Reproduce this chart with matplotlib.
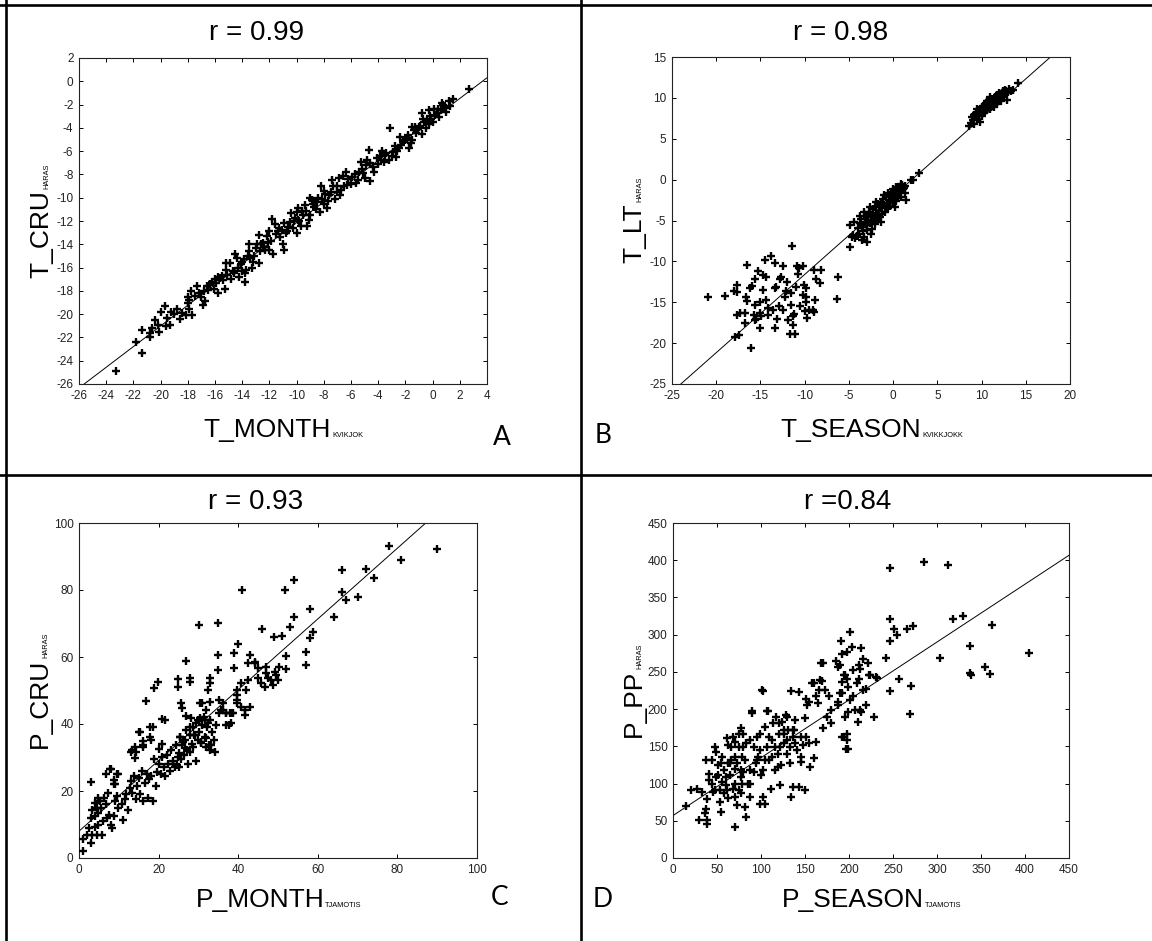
import matplotlib
matplotlib.use('Agg')
import matplotlib.pyplot as plt

W, H, DPI = 1152, 941, 100
plt.rcParams['font.family'] = ['Liberation Sans', 'DejaVu Sans']
plt.rcParams['axes.unicode_minus'] = False

# ---------------- data ----------------
panel_a_points = [
    (-23.3,-24.9),(-21.4,-23.3),(-21.8,-22.4),(-21.4,-21.4),(-20.8,-21.6),(-20.8,-22.0),(-20.6,-21.2),
    (-20.4,-20.5),(-20.1,-21.5),(-20.0,-19.8),(-19.7,-19.3),(-19.6,-21.0),(-19.5,-20.3),(-19.2,-19.8),
    (-18.6,-20.4),(-18.4,-19.9),(-18.1,-20.1),(-18.0,-19.0),(-17.9,-18.8),(-18.0,-18.5),(-17.7,-20.1),
    (-17.8,-18.0),(-17.3,-17.6),(-17.0,-18.5),(-16.9,-19.2),(-16.7,-18.9),(-16.5,-17.9),(-16.2,-17.2),
    (-16.0,-17.0),(-15.8,-18.2),(-15.8,-16.8),(-15.5,-16.7),(-15.3,-17.8),(-15.2,-16.2),(-14.8,-17.0),
    (-14.6,-16.5),(-14.5,-14.8),(-14.3,-16.0),(-14.0,-15.5),(-14.0,-16.3),(-13.8,-16.5),(-13.8,-17.2),
    (-13.6,-15.0),(-13.5,-14.6),(-13.3,-16.0),(-13.2,-15.5),(-13.0,-14.3),(-12.8,-15.6),(-12.8,-13.2),
    (-12.5,-13.9),(-12.3,-14.5),(-12.2,-13.3),(-12.0,-14.5),(-11.7,-14.8),(-11.8,-11.8),(-11.6,-12.3),
    (-11.2,-13.4),(-11.0,-14.0),(-10.9,-14.5),(-10.8,-13.0),(-10.6,-12.5),(-10.4,-11.3),(-10.2,-12.0),
    (-10.0,-13.0),(-9.8,-12.0),(-9.6,-11.1),(-9.4,-10.6),(-9.2,-12.4),(-9.0,-11.5),(-8.8,-10.5),
    (-8.6,-11.0),(-8.4,-10.0),(-8.2,-9.0),(-8.0,-10.5),(-7.8,-10.9),(-7.6,-9.8),(-7.3,-9.0),(-7.0,-9.5),
    (-6.8,-9.8),(-6.6,-8.1),(-6.3,-8.9),(-6.0,-8.8),(-5.7,-8.0),(-5.5,-8.5),(-5.2,-7.5),(-5.0,-8.3),
    (-4.8,-6.8),(-4.7,-5.9),(-4.6,-8.6),(-4.4,-7.4),(-4.0,-7.1),(-3.8,-6.8),(-3.5,-6.3),(-3.2,-6.8),
    (-3.1,-4.0),(-2.9,-6.1),(-2.7,-6.5),(-2.5,-5.7),(-2.2,-5.2),(-1.9,-4.9),(-1.7,-5.7),(-1.5,-5.0),
    (-1.2,-4.4),(-1.0,-3.9),(-0.8,-4.5),(-0.8,-2.7),(-0.6,-3.5),(-0.3,-3.7),(-0.1,-3.2),(0.1,-2.4),
    (0.3,-2.7),(0.5,-3.1),(0.7,-1.9),(0.9,-2.3),(1.3,-2.1),(1.5,-1.5),(2.7,-0.7),
    (-19.0,-20.0),(-18.8,-19.6),(-17.5,-18.4),(-17.2,-18.2),(-16.8,-18.0),(-16.4,-17.4),(-16.1,-17.8),
    (-15.9,-17.3),(-15.6,-16.9),(-15.4,-17.1),(-15.1,-16.6),(-14.9,-15.6),(-14.7,-16.3),(-14.4,-15.2),
    (-14.1,-15.7),(-13.9,-15.3),(-13.7,-16.2),(-13.4,-15.2),(-13.1,-15.0),(-12.9,-14.0),(-12.7,-14.6),
    (-12.4,-14.2),(-12.1,-13.8),(-11.9,-13.7),(-11.5,-13.1),(-11.3,-12.6),(-11.1,-12.8),(-10.9,-12.2),
    (-10.7,-12.9),(-10.5,-12.1),(-10.3,-12.6),(-10.1,-11.7),(-9.9,-11.9),(-9.7,-12.4),(-9.5,-11.5),
    (-9.3,-11.1),(-9.1,-11.9),(-8.9,-10.2),(-8.7,-10.8),(-8.5,-10.4),(-8.3,-11.2),(-8.1,-10.1),
    (-7.9,-9.7),(-7.7,-10.3),(-7.5,-9.5),(-7.2,-10.1),(-7.0,-9.0),(-6.7,-9.3),(-6.5,-9.0),(-6.2,-8.4),
    (-5.9,-8.2),(-5.6,-8.7),(-5.4,-7.8),(-5.1,-7.9),(-4.9,-7.2),(-4.6,-7.0),(-4.3,-7.8),(-4.1,-6.6),
    (-3.9,-6.4),(-3.6,-6.9),(-3.4,-6.2),(-3.0,-6.4),(-2.8,-5.6),(-2.6,-6.0),(-2.3,-5.5),(-2.0,-5.0),
    (-1.8,-4.6),(-1.6,-5.3),(-1.4,-4.2),(-1.3,-3.9),(-1.1,-4.1),(-0.9,-3.8),(-0.7,-3.2),(-0.5,-4.0),
    (-0.4,-3.3),(-0.2,-3.0),(0.0,-3.5),(0.2,-2.9),(0.4,-2.4),(0.6,-2.5),(0.8,-2.0),(1.0,-2.6),(1.2,-1.7),
    (-6.4,-7.8),(-9.9,-10.9),(-11.4,-12.9),(-12.6,-14.0),(-13.5,-14.0),(-14.2,-16.8),(-16.6,-17.6),
    (-20.2,-20.9),(-19.3,-20.9),(-17.9,-19.6),(-15.2,-15.6),(-12.0,-12.9),(-10.0,-11.2),(-9.0,-10.0),
    (-8.0,-9.4),(-7.4,-8.5),(-6.9,-8.3),(-5.3,-6.9),(-3.7,-6.0),(-2.4,-4.8),(-1.5,-3.9),(-0.3,-2.5),
]

panel_b_points = [
    (-20.9,-14.4),(-19.0,-14.2),(-18.0,-13.6),(-17.6,-12.9),(-17.7,-13.8),(-17.9,-19.2),(-17.4,-19.0),
    (-17.6,-16.6),(-17.3,-16.3),(-16.8,-17.5),(-16.7,-16.3),(-16.5,-10.5),(-16.6,-14.4),(-16.5,-14.9),
    (-16.2,-13.2),(-15.9,-13.0),(-16.1,-20.6),(-15.7,-16.6),(-15.6,-17.2),(-15.6,-15.3),(-15.1,-18.2),
    (-15.1,-16.3),(-15.0,-15.0),(-14.9,-16.7),(-15.6,-12.2),(-15.3,-11.2),(-14.7,-11.7),(-14.5,-9.8),
    (-14.4,-11.9),(-14.7,-13.5),(-14.4,-14.7),(-14.2,-15.7),(-13.8,-9.4),(-13.4,-10.2),(-13.6,-15.9),
    (-13.3,-13.3),(-13.2,-13.1),(-13.1,-17.1),(-13.3,-18.2),(-12.9,-15.5),(-12.5,-15.9),(-12.4,-10.6),
    (-12.8,-12.1),(-12.7,-11.9),(-12.2,-14.4),(-12.0,-12.5),(-11.9,-17.2),(-11.7,-18.9),(-11.5,-15.3),
    (-11.5,-13.9),(-11.4,-8.1),(-11.3,-16.7),(-11.3,-17.8),(-11.2,-16.4),(-11.1,-18.9),(-11.0,-13.1),
    (-10.9,-10.6),(-10.7,-11.6),(-10.6,-10.8),(-10.5,-15.5),(-10.2,-14.1),(-10.1,-12.9),(-9.9,-15.0),
    (-10.0,-16.1),(-9.8,-14.4),(-9.7,-16.9),(-9.5,-16.0),(-9.1,-15.9),(-8.9,-16.2),(-8.8,-14.7),
    (-8.7,-12.1),(-8.3,-12.6),(-8.1,-11.0),(-9.0,-11.0),(-9.8,-13.3),(-6.3,-14.6),(-6.2,-11.9),
    (-10.2,-10.6),(-12.1,-13.6),(-14.2,-16.6),(-15.5,-17.0),
    (-4.9,-5.5),(-4.9,-8.3),(-4.7,-7.0),(-4.5,-6.8),(-4.3,-7.2),(-4.1,-6.9),(-3.9,-6.6),(-3.8,-4.5),
    (-3.6,-4.8),(-3.5,-5.8),(-3.4,-6.3),(-3.3,-7.0),(-3.2,-5.2),(-3.1,-4.4),(-3.0,-5.6),(-2.9,-6.2),
    (-2.8,-4.9),(-2.7,-3.9),(-2.6,-5.3),(-2.5,-4.3),(-2.4,-6.0),(-2.3,-3.6),(-2.2,-4.7),(-2.1,-5.4),
    (-2.0,-3.3),(-1.9,-4.1),(-1.8,-5.0),(-1.7,-3.0),(-1.6,-3.8),(-1.5,-4.6),(-1.4,-2.7),(-1.3,-3.4),
    (-1.2,-4.2),(-1.1,-2.4),(-1.0,-3.1),(-0.9,-3.9),(-0.8,-2.1),(-0.7,-2.8),(-0.6,-3.5),(-0.5,-1.9),
    (-0.4,-2.5),(-0.3,-3.2),(-0.2,-1.6),(-0.1,-2.3),(0.0,-2.9),(0.1,-1.4),(0.2,-2.0),(0.3,-2.6),
    (0.4,-1.2),(0.5,-1.7),(0.6,-2.3),(0.7,-0.9),(0.8,-1.5),(0.9,-2.1),(1.0,-0.7),(1.1,-1.2),(1.2,-1.0),
    (1.4,-0.8),(1.5,-2.5),(2.0,-0.1),(2.3,-0.1),(2.9,0.8),(-3.7,-5.3),(-3.3,-4.0),(-2.9,-4.6),
    (-2.6,-3.4),(-2.3,-5.0),(-2.0,-4.4),(-1.7,-4.5),(-1.5,-3.3),(-1.2,-3.0),(-1.0,-1.9),(-0.8,-3.3),
    (-0.6,-1.6),(-0.3,-2.0),(0.0,-1.2),(0.3,-0.9),(0.6,-1.3),(0.9,-0.5),(1.3,-1.6),(-4.4,-5.2),
    (-3.0,-7.6),(-2.5,-6.6),(-1.9,-2.7),(-1.4,-5.2),(-0.5,-2.9),(0.2,-3.4),(-4.0,-5.9),(-3.5,-7.4),
    (8.6,6.5),(8.8,6.9),(9.0,7.3),(9.1,6.8),(9.3,7.6),(9.4,8.2),(9.6,7.4),(9.7,8.0),(9.8,7.1),(9.9,8.6),
    (10.0,7.8),(10.1,8.4),(10.2,9.0),(10.3,8.1),(10.4,8.8),(10.5,9.4),(10.6,8.5),(10.7,9.1),(10.8,9.7),
    (10.9,8.7),(11.0,9.3),(11.1,8.9),(11.2,9.9),(11.3,9.5),(11.4,8.9),(11.5,10.1),(11.6,9.6),(11.7,9.2),
    (11.8,10.3),(11.9,9.8),(12.0,10.6),(12.1,10.0),(12.2,9.6),(12.3,10.4),(12.4,10.8),(12.5,10.2),
    (12.6,11.0),(12.7,10.5),(12.8,10.9),(12.9,9.7),(13.0,10.7),(13.1,11.1),(13.3,10.8),(13.5,11.0),
    (14.1,11.8),(9.2,7.9),(9.5,8.6),(10.0,8.9),(10.6,9.6),(11.0,10.1),(11.5,9.2),(12.0,9.9),(8.9,7.6),
]

panel_c_points = [
    (77.9,93.2),(81.0,89.0),(90.0,92.2),(66.0,86.0),(72.0,86.2),(74.0,83.5),(66.0,79.3),(67.0,77.1),
    (70.0,77.9),(64.0,71.8),(54.0,83.0),(51.8,79.9),(41.0,80.0),(30.1,69.6),(35.0,70.1),(58.0,74.3),
    (54.0,71.9),(52.9,69.1),(51.1,66.4),(49.0,66.1),(58.8,67.6),(58.0,65.6),(57.0,61.6),(57.0,57.6),
    (51.9,60.3),(51.9,56.3),(46.0,68.3),(40.0,63.9),(38.9,61.3),(42.9,60.6),(38.9,56.8),(35.0,60.6),
    (35.0,56.1),(27.0,58.8),(27.9,53.6),(27.9,52.6),(24.9,53.3),(24.9,50.9),(19.9,52.6),(18.9,50.6),
    (16.9,47.0),(20.8,41.4),(17.8,39.2),(17.8,36.2),(15.0,37.7),(16.1,35.0),(16.1,33.7),(14.0,33.2),
    (13.0,31.7),(14.0,30.0),(3.1,22.7),(6.9,25.2),(7.9,26.7),(9.9,25.0),(8.9,23.2),(8.9,22.2),
    (1.0,5.8),(1.0,2.1),(3.1,4.5),
    (2.1,6.9),(3.3,6.9),(4.5,6.9),(5.8,6.9),(2.5,8.9),(3.9,9.4),(4.8,9.9),(6.0,10.9),(2.9,11.9),
    (4.1,12.4),(4.8,13.4),(3.3,14.4),(4.5,14.9),(5.6,14.9),(4.1,16.5),(5.2,17.0),(6.4,18.0),(4.8,18.0),
    (7.2,19.5),(6.8,16.0),(7.6,12.9),(8.0,9.9),(7.0,11.9),(8.8,12.4),(8.4,8.9),(9.1,17.0),(9.5,18.5),
    (9.9,14.9),(10.7,16.0),(11.1,11.4),(11.5,17.5),(11.9,19.0),(12.3,14.4),(12.7,21.0),(13.0,23.0),
    (13.4,19.5),(13.8,24.5),(14.2,17.5),(14.6,21.5),(15.0,24.0),(15.4,19.0),(15.8,26.1),(16.2,17.0),
    (16.6,22.5),(17.0,25.1),(17.3,18.0),(17.7,23.5),(18.1,24.5),(18.5,17.0),(18.9,29.6),(19.3,21.5),
    (19.7,25.6),(20.1,28.1),(20.5,25.1),(20.9,30.1),(21.3,27.1),(21.6,24.5),(22.0,30.6),(22.4,28.1),
    (22.8,26.1),(23.2,32.1),(23.6,29.1),(24.0,27.1),(24.4,33.6),(24.8,30.1),(25.2,27.1),(25.5,36.2),
    (25.9,33.6),(26.3,30.6),(26.7,35.2),(27.1,32.1),(27.5,28.1),(27.9,36.7),(28.3,34.1),(28.7,39.2),
    (29.1,36.7),(29.5,29.1),(29.8,41.2),(30.2,37.7),(30.6,34.6),(31.0,39.7),(31.4,42.2),(31.8,35.7),
    (32.2,39.2),(32.6,33.6),(33.0,41.2),(33.4,37.7),(33.8,35.2),(34.1,31.6),(34.5,39.7),(35.3,43.2),
    (36.1,44.2),(36.9,43.2),(37.7,39.7),(38.4,43.2),(8.0,26.6),(9.5,25.1),(9.1,22.0),(15.4,37.7),
    (18.1,35.2),(18.5,39.2),(16.2,33.1),(14.2,31.6),(13.4,32.1),(21.6,41.2),(20.1,32.6),(20.9,34.1),
    (25.7,46.2),(26.0,44.7),(27.0,42.4),(28.2,41.7),(29.5,40.2),(30.3,41.7),(31.6,41.2),(32.4,40.2),
    (30.3,46.2),(30.9,46.2),(31.9,44.2),(32.8,46.7),(32.9,53.6),(33.0,52.1),(32.4,50.1),(35.3,47.2),
    (36.2,46.2),(35.8,44.2),(37.0,43.2),(37.9,43.2),(38.3,40.2),(37.0,39.7),(38.7,43.2),(39.7,50.1),
    (39.7,48.7),(39.7,47.2),(39.7,46.2),(40.8,52.2),(40.8,45.2),(41.8,44.2),(41.8,42.7),(42.9,45.2),
    (42.0,50.1),(42.4,53.1),(44.1,58.1),(44.9,56.6),(44.9,53.6),(45.8,52.1),(47.1,57.1),(47.1,55.1),
    (47.5,53.6),(46.8,51.1),(48.3,53.1),(49.2,55.6),(49.6,54.6),(50.0,53.1),(48.8,51.6),(50.2,57.1),
    (42.5,58.1),(44.1,58.6),(26.7,32.7),(27.8,31.7),(28.6,33.2),(29.0,36.7),(29.8,35.2),(30.7,34.2),
    (31.6,36.2),(32.8,32.2),(32.0,33.2),(33.1,33.7),(27.0,38.2),(27.8,39.2),(26.1,34.7),(25.3,36.2),
    (25.0,31.2),(25.7,29.7),(24.5,27.7),(23.7,28.2),
]

panel_d_points = [
    (285,398),(313,393),(247,389),(318,321),(330,325),(247,321),(251,308),(254,299),(266,308),
    (273,312),(247,291),(363,313),(337,285),(303,268),(337,248),(339,246),(355,257),(360,247),
    (405,275),(257,240),(271,231),(269,194),(247,224),(242,269),(232,242),(224,246),(228,190),
    (219,206),(219,227),(222,262),(216,267),(214,282),(211,259),(205,253),(203,284),(201,304),
    (198,277),(192,274),(191,292),(190,259),(194,246),(198,241),(199,230),(201,212),(199,196),
    (198,167),(198,158),(199,147),(192,163),(196,190),(192,222),(187,210),(188,256),(214,196),
    (210,183),(212,199),(212,254),(209,235),(170,262),(169,238),(160,235),(166,226),(155,209),
    (151,213),(143,223),(136,172),(139,185),(126,167),(129,190),(121,181),(102,225),(90,195),
    (108,197),(77,174),(75,167),
    (15,70),(20,92),(27,93),(29,51),(39,51),(39,46),(33,88),(36,61),(37,66),(39,79),(41,105),
    (41,113),(37,131),(44,131),(46,89),(48,149),(49,143),(51,125),(51,111),(53,91),(53,75),(54,62),
    (56,136),(58,118),(58,87),(60,98),(61,161),(63,152),(63,127),(63,80),(65,111),(66,131),(68,163),
    (68,93),(70,156),(70,120),(71,100),(71,82),(71,42),(73,71),(75,91),(77,109),(77,118),(78,136),
    (79,149),(80,167),(82,69),(83,55),(85,100),(87,158),(88,118),(90,197),(92,149),(94,127),
    (95,163),(97,136),(99,73),(99,167),(100,111),(101,226),(102,82),(104,176),(105,73),(107,197),
    (107,149),(109,131),(111,93),(112,158),(114,181),(116,118),(117,190),(119,140),(121,167),
    (122,98),(123,125),(124,183),(126,154),(128,192),(129,140),(131,172),(133,127),(134,82),
    (134,224),(136,96),(138,172),(139,154),(143,96),(145,129),(146,163),(148,152),(150,188),
    (152,206),(155,154),(156,122),(158,235),(160,134),(162,217),(163,156),(165,208),(167,239),
    (168,262),(170,174),(173,226),(175,190),(177,217),(179,199),(180,181),(185,264),(187,206),
    (190,221),(192,237),(194,163),(197,147),(196,246),(204,217),(207,199),(211,241),
    (216,226),(223,246),(231,243),
    (44,100),(48,91),(49,109),(54,127),(56,102),(60,109),(61,91),(65,127),(66,149),(70,136),
    (73,127),(75,149),(77,87),(78,100),(80,116),(82,131),(83,154),(87,82),(88,100),(92,116),
    (95,131),(99,145),(102,118),(105,131),(109,163),(112,136),(116,149),(119,122),(122,149),
    (126,172),(129,158),(133,149),(136,163),(141,145),(146,136),(151,163),(150,91),
]

# regression lines (slope, intercept)
fit_a = (0.888, -3.25)
fit_b = (0.957, -2.03)
fit_c = (1.056, 8.0)
fit_d = (0.777, 57.0)

titles = ['r = 0.99', 'r = 0.98', 'r = 0.93', 'r =0.84']
xlabels = [('T_MONTH', 'KVIKJOK'), ('T_SEASON', 'KVIKKJOKK'), ('P_MONTH', 'TJAMOTIS'), ('P_SEASON', 'TJAMOTIS')]
ylabels = [('T_CRU', 'HARAS'), ('T_LT', 'HARAS'), ('P_CRU', 'HARAS'), ('P_PP', 'HARAS')]
letters = ['A', 'B', 'C', 'D']
limits = [((-26, 4, 2), (-26, 2, 2)), ((-25, 20, 5), (-25, 15, 5)),
          ((0, 100, 20), (0, 100, 20)), ((0, 450, 50), (0, 450, 50))]

# ---------------- layout (pixels) ----------------
axes_px = [(79, 58, 487, 384), (672, 57, 1070, 384), (79, 523, 477, 858), (673, 523, 1069, 858)]
title_px = [(257, 33), (841, 33), (256, 502), (848, 502)]
xlab_base = [437, 437, 907, 907]
ylab_base = [48, 641, 47, 641]
letter_px = [(502, 445), (603, 443), (500, 905), (603, 907)]

fig = plt.figure(figsize=(W / DPI, H / DPI), dpi=DPI)
renderer = fig.canvas.get_renderer()


def fx(px):
    return px / W


def fy(py):
    return 1 - py / H


def pair_label(main, sub, c, base, vertical):
    rot = 90 if vertical else 0
    t1 = fig.text(0, 0, main, fontsize=19, rotation=rot, rotation_mode='anchor', ha='left', va='baseline')
    t2 = fig.text(0, 0, sub, fontsize=5.3, rotation=rot, rotation_mode='anchor', ha='left', va='baseline')
    e1 = t1.get_window_extent(renderer)
    e2 = t2.get_window_extent(renderer)
    if vertical:
        w1, w2 = e1.height, e2.height
        start = c + (w1 + w2) / 2
        t1.set_position((fx(base), fy(start)))
        t2.set_position((fx(base), fy(start - w1 - 1)))
    else:
        w1, w2 = e1.width, e2.width
        start = c - (w1 + w2) / 2
        t1.set_position((fx(start), fy(base)))
        t2.set_position((fx(start + w1 + 1), fy(base)))


panels = [panel_a_points, panel_b_points, panel_c_points, panel_d_points]
fits = [fit_a, fit_b, fit_c, fit_d]

for i in range(4):
    l, t, r, b = axes_px[i]
    ax = fig.add_axes([fx(l), fy(b), (r - l) / W, (b - t) / H])
    xs = [p[0] for p in panels[i]]
    ys = [p[1] for p in panels[i]]
    (x0, x1, xs_step), (y0, y1, ys_step) = limits[i]
    slope, icpt = fits[i]
    ax.plot([x0, x1], [icpt + slope * x0, icpt + slope * x1], color='black', lw=0.7, zorder=2)
    ax.plot(xs, ys, linestyle='none', marker='+', ms=6, mew=1.7, color='black', zorder=3)
    ax.set_xlim(x0, x1)
    ax.set_ylim(y0, y1)
    ax.set_xticks(list(range(x0, x1 + 1, xs_step)))
    ax.set_yticks(list(range(y0, y1 + 1, ys_step)))
    ax.tick_params(direction='in', length=3, width=0.7, top=True, right=True,
                   labelsize=8.5, pad=4, colors='black', labelcolor='#222222')
    for s in ax.spines.values():
        s.set_linewidth(0.8)
        s.set_color('#222222')
    # title
    fig.text(fx(title_px[i][0]), fy(title_px[i][1]), titles[i], fontsize=20, ha='center', va='center')
    cx = (l + r) / 2
    cy = (t + b) / 2
    pair_label(xlabels[i][0], xlabels[i][1], cx, xlab_base[i], False)
    pair_label(ylabels[i][0], ylabels[i][1], cy, ylab_base[i], True)
    fig.text(fx(letter_px[i][0]), fy(letter_px[i][1]), letters[i], fontsize=19,
             family=['Lato', 'DejaVu Sans'], ha='center', va='baseline')

# table borders
bw = 1.9
fig.add_artist(plt.Line2D([fx(0), fx(W)], [fy(5), fy(5)], color='black', lw=bw))
fig.add_artist(plt.Line2D([fx(6), fx(6)], [fy(0), fy(H)], color='black', lw=bw))
fig.add_artist(plt.Line2D([fx(581), fx(581)], [fy(0), fy(H)], color='black', lw=bw))
fig.add_artist(plt.Line2D([fx(0), fx(W)], [fy(475), fy(475)], color='black', lw=bw))

fig.savefig('out.png', dpi=DPI, facecolor='white')
